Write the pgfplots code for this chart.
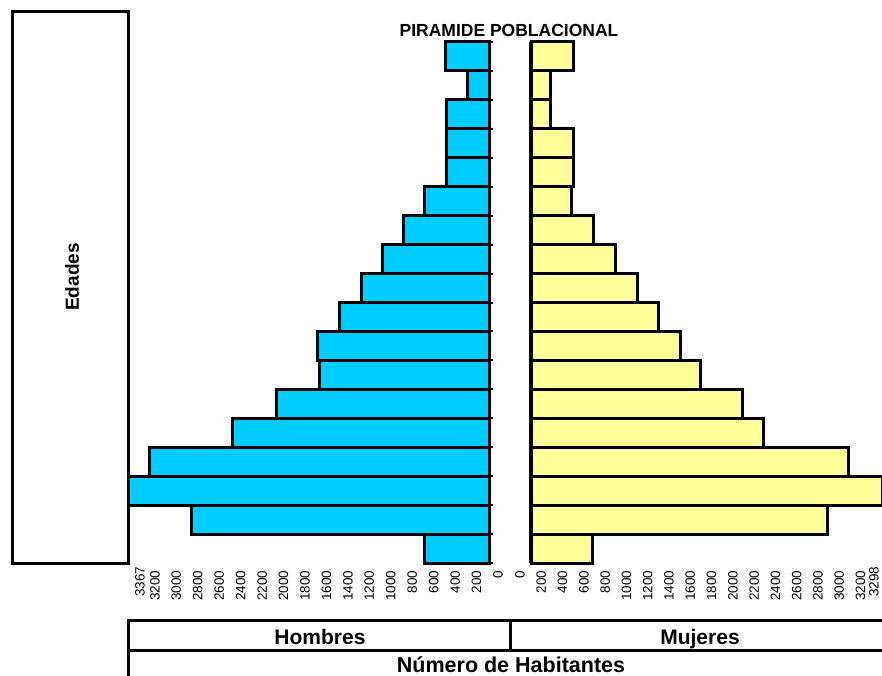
\documentclass[border=0pt]{standalone}
\usepackage{fontspec}
\setmainfont{Liberation Sans}
\usepackage{pgfplots}
\pgfplotsset{compat=1.18}
\definecolor{hblue}{RGB}{0,204,255}
\definecolor{myellow}{RGB}{255,255,153}
\begin{document}
\begin{tikzpicture}[x=1pt,y=1pt]
\pgfplotsset{pyr/.style={
  scale only axis, height=521pt, ymin=0.5, ymax=18.5, clip=false,
  axis x line*=bottom, x axis line style={draw=none},
  major x tick style={draw=none},
  y axis line style={line width=3.5pt, -},
  ytick={0.5,1.5,...,18.5}, yticklabels={},
  major y tick style={line width=2pt, black},
  major tick length=4pt, tick align=outside,
  xticklabel style={font=\fontsize{13.5}{14}\selectfont, rotate=90, anchor=east},
}}
\begin{axis}[pyr, at={(128pt,112pt)}, anchor=south west, width=361pt,
  xmin=-3367, xmax=0, axis y line*=right,
  xtick={-3200,-3000,-2800,-2600,-2400,-2200,-2000,-1800,-1600,-1400,-1200,-1000,-800,-600,-400,-200,0},
  xticklabels={3200,3000,2800,2600,2400,2200,2000,1800,1600,1400,1200,1000,800,600,400,200,0},
  xticklabel style={yshift=-9pt},
  extra x ticks={-3367}, extra x tick labels={3367},
  extra x tick style={major tick length=0pt, xticklabel style={yshift=-3pt}}]
\addplot[xbar, bar width=1, fill=hblue, draw=black, line width=3pt] coordinates {
(-597,1) (-2771,2) (-3367,3) (-3162,4) (-2388,5) (-1978,6) (-1577,7) (-1595,8) (-1390,9)
(-1185,10) (-989,11) (-802,12) (-597,13) (-392,14) (-392,15) (-392,16) (-196,17) (-410,18)};
\end{axis}
\begin{axis}[pyr, at={(531pt,112pt)}, anchor=south west, width=351pt,
  xmin=0, xmax=3298, axis y line*=left, major y tick style={draw=none},
  xtick={0,200,400,600,800,1000,1200,1400,1600,1800,2000,2200,2400,2600,2800,3000,3200},
  xticklabels={0,200,400,600,800,1000,1200,1400,1600,1800,2000,2200,2400,2600,2800,3000,3200},
  xticklabel style={yshift=11pt},
  extra x ticks={3298}, extra x tick labels={3298},
  extra x tick style={major tick length=0pt, xticklabel style={yshift=-3pt}}]
\addplot[xbar, bar width=1, fill=myellow, draw=black, line width=3pt] coordinates {
(574,1) (2782,2) (3298,3) (2980,4) (2182,5) (1984,6) (1590,7) (1400,8) (1194,9)
(996,10) (790,11) (583,12) (385,13) (395,14) (395,15) (179,16) (179,17) (395,18)};
\end{axis}
% left "Edades" box
\draw[line width=3pt] (12,663) rectangle (128,112);
\node[rotate=90, font=\bfseries\fontsize{19}{21}\selectfont] at (72,398) {Edades};
\node[anchor=base, font=\bfseries\fontsize{17.5}{19}\selectfont] at (509,638) {PIRAMIDE POBLACIONAL};
% bottom boxes
\draw[line width=3pt] (890,55) -- (128,55) -- (128,-10);
\draw[line width=3pt] (128,25) -- (890,25);
\draw[line width=3pt] (510,55) -- (510,25);
\node[anchor=base, font=\bfseries\fontsize{21}{23}\selectfont] at (320,31) {Hombres};
\node[anchor=base, font=\bfseries\fontsize{21}{23}\selectfont] at (700,31) {Mujeres};
\node[anchor=base, inner sep=0pt, font=\bfseries\fontsize{21.5}{23}\selectfont] at (511,3) {Número de Habitantes};
\pgfresetboundingbox
\path[use as bounding box] (0,0) rectangle (882,675);
\end{tikzpicture}
\end{document}
